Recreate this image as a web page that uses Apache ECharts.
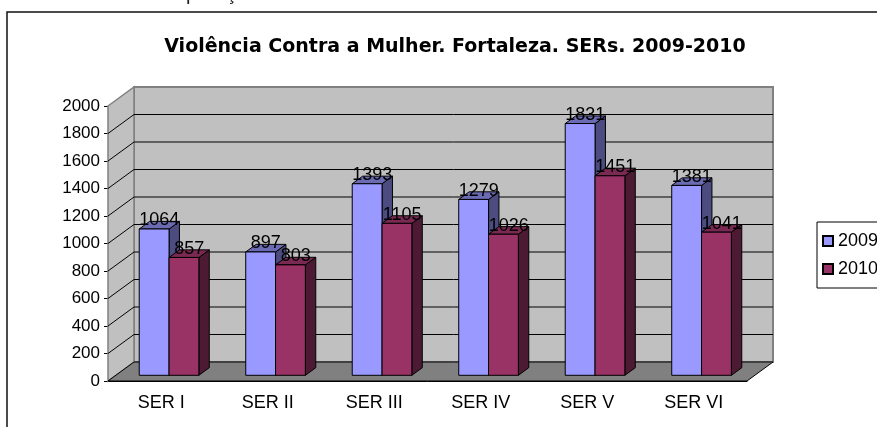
<!DOCTYPE html>
<html>
<head>
<meta charset="utf-8">
<script src="https://cdn.jsdelivr.net/npm/echarts@6/dist/echarts.min.js"></script>
<style>
  html, body { margin: 0; padding: 0; background: #fff; }
  #chart { width: 877px; height: 427px; }
</style>
</head>
<body>
<div id="chart"></div>
<script>
const categories = ['SER I', 'SER II', 'SER III', 'SER IV', 'SER V', 'SER VI']
const values2009 = [1064, 897, 1393, 1279, 1831, 1381]
const values2010 = [857, 803, 1105, 1026, 1451, 1041]
const yTicks = [0, 200, 400, 600, 800, 1000, 1200, 1400, 1600, 1800, 2000]

// depth of the 3d box (pixels)
const DX = 26, DY = -19
// bars sit between 30% and 70% of the depth
const BX = DX * 0.3, BY = DY * 0.3
const BDX = DX * 0.4, BDY = DY * 0.4
const FONT = '"Liberation Sans", Arial, sans-serif'

const chart = echarts.init(document.getElementById('chart'))

const renderWalls = (params, api) => {
  const cs = params.coordSys
  const x0 = cs.x, x1 = cs.x + cs.width, y0 = cs.y, y1 = cs.y + cs.height
  const children = []
  // back wall
  children.push({
    type: 'polygon',
    shape: { points: [[x0 + DX, y0 + DY], [x1 + DX, y0 + DY], [x1 + DX, y1 + DY], [x0 + DX, y1 + DY]] },
    style: { fill: '#C0C0C0', stroke: '#808080', lineWidth: 2 }
  })
  // left wall
  children.push({
    type: 'polygon',
    shape: { points: [[x0, y0], [x0 + DX, y0 + DY], [x0 + DX, y1 + DY], [x0, y1]] },
    style: { fill: '#C0C0C0', stroke: '#808080', lineWidth: 1.5 }
  })
  // grid lines on the walls
  yTicks.forEach(t => {
    if (t === yTicks[0] || t === yTicks[yTicks.length - 1]) return
    const y = api.coord([0, t])[1]
    children.push({
      type: 'polyline',
      shape: { points: [[x0, y], [x0 + DX, y + DY], [x1 + DX, y + DY]] },
      style: { stroke: '#000', lineWidth: 1, fill: null }
    })
  })
  // floor
  children.push({
    type: 'polygon',
    shape: { points: [[x0, y1], [x1, y1], [x1 + DX, y1 + DY], [x0 + DX, y1 + DY]] },
    style: { fill: '#808080', stroke: '#000', lineWidth: 1 }
  })
  return { type: 'group', children }
}

const makeBarRenderer = (side, front, topColor, sideColor) => (params, api) => {
  const i = api.value(0)
  const v = api.value(1)
  const base = api.coord([i, 0])
  const top = api.coord([i, v])
  const w = api.size([1, 0])[0] * 0.28
  const xl = (side === 'left' ? base[0] - w : base[0]) + BX
  const yb = base[1] + BY
  const yt = top[1] + BY
  const stroke = { stroke: '#000', lineWidth: 1 }
  return {
    type: 'group',
    children: [
      {
        type: 'polygon',
        shape: { points: [[xl + w, yt], [xl + w + BDX, yt + BDY], [xl + w + BDX, yb + BDY], [xl + w, yb]] },
        style: Object.assign({ fill: sideColor }, stroke)
      },
      {
        type: 'polygon',
        shape: { points: [[xl, yt], [xl + BDX, yt + BDY], [xl + w + BDX, yt + BDY], [xl + w, yt]] },
        style: Object.assign({ fill: topColor }, stroke)
      },
      {
        type: 'polygon',
        shape: { points: [[xl, yt], [xl + w, yt], [xl + w, yb], [xl, yb]] },
        style: Object.assign({ fill: front }, stroke)
      },
      {
        type: 'text',
        z2: 10,
        style: {
          text: String(v),
          x: xl + w / 2 + BDX / 2,
          y: yt + BDY - 1,
          align: 'center', verticalAlign: 'middle',
          textAlign: 'center', textVerticalAlign: 'middle',
          font: '18px ' + FONT,
          fill: '#000'
        }
      }
    ]
  }
}

const options = {
  backgroundColor: '#fff',
  animation: false,
  title: {
    text: 'Violência Contra a Mulher. Fortaleza. SERs. 2009-2010',
    left: 450,
    top: 33,
    textAlign: 'center',
    textStyle: { fontFamily: '"DejaVu Sans"', fontWeight: 'bold', fontSize: 19, color: '#000' }
  },
  graphic: [
    {
      type: 'rect',
      shape: { x: 7, y: 12, width: 900, height: 450 },
      style: { fill: null, stroke: '#111', lineWidth: 1.5 }
    },
    {
      type: 'text',
      style: {
        text: 'Comparação da Violência Contra a Mulher nas SERs em 2009 e 2010',
        x: 455, y: -6,
        align: 'center', verticalAlign: 'middle',
        textAlign: 'center', textVerticalAlign: 'middle',
        font: '20px ' + FONT,
        fill: '#222'
      }
    }
  ],
  legend: {
    data: ['2009', '2010'],
    orient: 'vertical',
    left: 817,
    top: 222,
    icon: 'rect',
    itemWidth: 10,
    itemHeight: 10,
    itemGap: 10,
    padding: [10, 8, 10, 5],
    borderColor: '#000',
    borderWidth: 1,
    borderRadius: 0,
    textStyle: { fontFamily: FONT, fontSize: 18, color: '#000' }
  },
  grid: { left: 108, right: 130, top: 106, bottom: 46 },
  xAxis: {
    type: 'category',
    data: categories,
    axisLine: { lineStyle: { color: '#000', width: 1 } },
    axisTick: { length: 5, lineStyle: { color: '#000' } },
    axisLabel: { fontFamily: FONT, fontSize: 18, color: '#000', margin: 13 },
    splitLine: { show: false }
  },
  yAxis: {
    type: 'value',
    min: 0,
    max: 2000,
    interval: 200,
    axisLine: { show: true, lineStyle: { color: '#000', width: 1 } },
    axisTick: { show: true, length: 4, lineStyle: { color: '#000' } },
    axisLabel: { fontFamily: FONT, fontSize: 17, color: '#000', margin: 8, formatter: v => String(v) },
    splitLine: { show: false }
  },
  series: [
    {
      name: 'walls',
      type: 'custom',
      clip: false,
      silent: true,
      renderItem: renderWalls,
      data: [[0, 0]],
      z: 1
    },
    {
      name: '2009',
      type: 'custom',
      clip: false,
      renderItem: makeBarRenderer('left', '#9999FF', '#6B6BB3', '#4C4C80'),
      itemStyle: { color: '#9999FF', borderColor: '#000', borderWidth: 1 },
      encode: { x: 0, y: 1 },
      data: values2009.map((v, i) => [i, v]),
      z: 2
    },
    {
      name: '2010',
      type: 'custom',
      clip: false,
      renderItem: makeBarRenderer('right', '#993366', '#7A2952', '#4D1A33'),
      itemStyle: { color: '#993366', borderColor: '#000', borderWidth: 1 },
      encode: { x: 0, y: 1 },
      data: values2010.map((v, i) => [i, v]),
      z: 3
    }
  ]
}

chart.setOption(options)
window.onresize = () => { chart.resize() }
</script>
</body>
</html>
